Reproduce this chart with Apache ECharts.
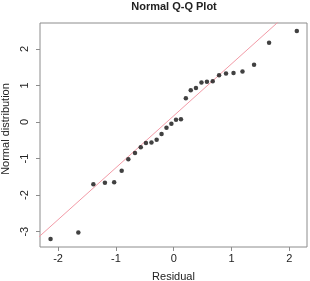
<!DOCTYPE html>
<html>
<head>
<meta charset="utf-8">
<script src="https://cdn.jsdelivr.net/npm/echarts@6/dist/echarts.min.js"></script>
<style>
  html, body { margin: 0; padding: 0; background: #fff; }
  #chart { width: 310px; height: 281px; }
</style>
</head>
<body>
<div id="chart"></div>
<script>
// theoretical quantiles (x) and sample values (y)
const qx = [-2.13, -1.65, -1.39, -1.19, -1.03, -0.90, -0.785, -0.67, -0.57, -0.48,
  -0.385, -0.295, -0.21, -0.125, -0.04, 0.04, 0.125, 0.21, 0.295, 0.385,
  0.48, 0.575, 0.675, 0.785, 0.905, 1.035, 1.19, 1.39, 1.65, 2.13]
const qy = [-3.20, -3.02, -1.70, -1.66, -1.65, -1.33, -1.02, -0.85, -0.69, -0.575,
  -0.56, -0.485, -0.33, -0.155, -0.045, 0.065, 0.075, 0.65, 0.87, 0.93,
  1.08, 1.105, 1.115, 1.28, 1.33, 1.34, 1.38, 1.57, 2.17, 2.49]

// qqline end points
const lineX = [-2.4, 2.4]
const lineY = [-3.24, 3.58]

const xTicks = [-2, -1, 0, 1, 2]
const yTicks = [-3, -2, -1, 0, 1, 2]

const font = 'Liberation Sans, Arial, sans-serif'
const textColor = '#222'
const boxColor = '#8c8c8c'

const chart = echarts.init(document.getElementById('chart'))

const option = {
  animation: false,
  title: {
    text: 'Normal Q-Q Plot',
    left: 174,
    textAlign: 'center',
    top: 1,
    padding: 0,
    textStyle: {
      fontFamily: font,
      fontSize: 11,
      fontWeight: 'bold',
      color: textColor,
    },
  },
  grid: {
    left: 40,
    right: 3,
    top: 23,
    bottom: 34,
    outerBoundsMode: 'none',
    containLabel: false,
    show: true,
    borderColor: boxColor,
    borderWidth: 1,
    backgroundColor: 'transparent',
  },
  xAxis: {
    type: 'value',
    min: -2.313,
    max: 2.306,
    name: 'Residual',
    nameLocation: 'middle',
    nameGap: 24,
    nameTextStyle: { fontFamily: font, fontSize: 11, color: textColor },
    axisLine: { show: false, onZero: false },
    splitLine: { show: false },
    axisTick: {
      show: true,
      length: 4,
      customValues: xTicks,
      lineStyle: { color: boxColor },
    },
    axisLabel: {
      customValues: xTicks,
      margin: 6,
      fontFamily: font,
      fontSize: 11,
      color: textColor,
    },
  },
  yAxis: {
    type: 'value',
    min: -3.42,
    max: 2.71,
    name: 'Normal distribution',
    nameLocation: 'middle',
    nameGap: 26,
    nameTextStyle: {
      fontFamily: font,
      fontSize: 11,
      color: textColor,
      padding: [0, 0, 0, 12],
    },
    axisLine: { show: false, onZero: false },
    splitLine: { show: false },
    axisTick: {
      show: true,
      length: 4,
      customValues: yTicks,
      lineStyle: { color: boxColor },
    },
    axisLabel: {
      customValues: yTicks,
      rotate: 90,
      margin: 10,
      fontFamily: font,
      fontSize: 11,
      color: textColor,
    },
  },
  series: [
    {
      type: 'line',
      data: lineX.map((x, i) => [x, lineY[i]]),
      symbol: 'none',
      clip: true,
      lineStyle: { color: '#f29aa6', width: 1 },
      z: 1,
    },
    {
      type: 'scatter',
      data: qx.map((x, i) => [x, qy[i]]),
      symbol: 'circle',
      symbolSize: 4.5,
      itemStyle: { color: '#111' },
      z: 2,
    },
  ],
}

chart.setOption(option)
</script>
</body>
</html>
